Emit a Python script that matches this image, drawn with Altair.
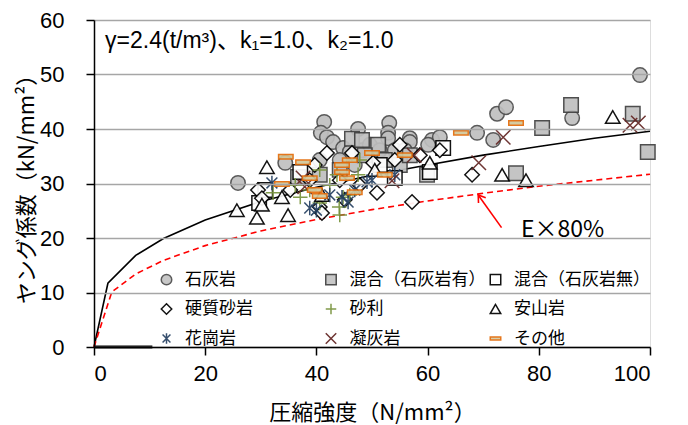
import altair as alt
import pandas as pd

# ---------------- data ----------------
categories = ["石灰岩", "混合（石灰岩有）", "混合（石灰岩無）", "硬質砂岩", "砂利",
              "安山岩", "花崗岩", "凝灰岩", "その他"]

limestone_x = [25.9, 34.4, 41.4, 40.8, 41.9, 43.0, 44.8, 46.0, 47.5, 48.2, 49.6, 53.1, 52.9, 52.9, 54.1,
               56.8, 56.8, 60.8, 62.2, 60.1, 68.9, 71.8, 72.5, 74.1, 86.0, 98.2, 40.6, 44.2, 46.9, 55.9, 51.4]
limestone_y = [30.1, 33.8, 41.3, 39.3, 38.5, 37.6, 36.5, 35.8, 40.0, 36.1, 37.1, 41.1, 39.3, 38.3, 36.1,
               38.3, 37.6, 38.0, 38.5, 37.1, 39.3, 38.0, 42.8, 44.0, 42.0, 49.9, 34.3, 34.3, 33.4, 36.1, 36.1]

mixed_ls_x = [46.4, 51.1, 52.3, 36.7, 59.9, 80.6, 85.8, 96.9, 99.6, 75.9, 48.7, 55.0, 44.2, 40.6, 56.8, 48.2]
mixed_ls_y = [38.2, 37.1, 34.3, 31.2, 31.6, 40.2, 44.4, 42.8, 35.8, 31.9, 35.2, 33.4, 32.5, 31.6, 35.2, 38.0]

mixed_nols_x = [29.7, 30.8, 62.8, 60.4, 54.1, 37.1, 51.4]
mixed_nols_y = [26.4, 28.8, 36.5, 32.1, 31.0, 32.1, 33.4]

sandstone_x = [29.5, 30.2, 35.3, 40.6, 41.0, 41.9, 44.2, 46.4, 47.8, 50.2, 50.9, 55.0, 57.2, 58.6, 62.2,
               68.0, 38.8, 45.1, 39.7, 54.1]
sandstone_y = [28.8, 27.3, 28.8, 25.7, 24.6, 35.6, 30.6, 35.6, 29.7, 33.8, 28.3, 37.1, 26.6, 35.2, 36.1,
               31.6, 30.6, 27.0, 33.4, 34.3]

gravel_x = [32.2, 37.1, 40.6, 43.7, 40.6, 44.2, 44.8, 47.5, 36.2, 42.4, 47.8, 38.8, 46.0, 44.1]
gravel_y = [28.3, 27.5, 32.5, 31.6, 26.4, 24.2, 27.5, 31.6, 29.7, 29.7, 34.3, 28.8, 27.9, 25.7]

andesite_x = [31.1, 29.3, 34.9, 33.8, 25.7, 60.4, 73.4, 77.7, 93.3, 41.0, 50.5, 30.2]
andesite_y = [33.0, 23.7, 24.2, 27.5, 25.1, 33.8, 31.6, 30.6, 42.2, 27.9, 32.5, 26.1]

granite_x = [32.0, 38.8, 44.6, 45.7, 49.1, 50.0, 46.9, 42.4, 54.1, 40.0]
granite_y = [30.1, 25.5, 27.5, 26.6, 30.3, 30.6, 28.8, 27.9, 31.6, 25.1]

tuff_x = [37.9, 37.6, 53.6, 57.6, 69.2, 73.6, 96.4, 97.9]
tuff_y = [29.4, 31.0, 30.5, 35.2, 33.8, 38.5, 40.7, 41.1]

other_x = [34.5, 37.6, 38.8, 33.8, 39.7, 40.6, 44.6, 44.6, 46.0, 45.5, 46.9, 50.0, 52.3, 66.0, 75.9, 55.9]
other_y = [34.9, 33.9, 31.0, 29.9, 28.8, 27.7, 33.4, 32.1, 34.3, 31.0, 28.4, 35.6, 31.6, 39.3, 41.1, 35.2]

# calculated curve and its 80 % curve
curve_x = [0, 2.5, 7.5, 12.5, 20, 30, 40, 50, 60, 70, 80, 90, 100]
curve_y = [0, 11.7, 16.8, 19.9, 23.3, 26.7, 29.3, 31.5, 33.4, 35.2, 36.8, 38.3, 39.6]
curve80_x = [0, 3.2, 7.5, 12.5, 20, 30, 40, 50, 60, 70, 80, 90, 100]
curve80_y = [0, 10.1, 13.4, 15.9, 18.6, 21.3, 23.4, 25.2, 26.8, 28.2, 29.5, 30.6, 31.7]

base_x = [0, 10.5]
base_y = [0, 0]

param_label = "γ=2.4(t/m³)、k₁=1.0、k₂=1.0"
param_pos = (2.0, 56.1)
note_label = "E×80%"
note_pos = (76.8, 21.5)
arrow_x = [73.3, 69.1]
arrow_y = [21.9, 27.9]

x_ticks = [0, 20, 40, 60, 80, 100]
y_ticks = [0, 10, 20, 30, 40, 50, 60]
x_title = "圧縮強度（N/mm²）"
y_title = "ヤング係数（kN/mm²）"

# ---------------- build tables ----------------
series = [
    (categories[0], limestone_x, limestone_y),
    (categories[1], mixed_ls_x, mixed_ls_y),
    (categories[2], mixed_nols_x, mixed_nols_y),
    (categories[3], sandstone_x, sandstone_y),
    (categories[4], gravel_x, gravel_y),
    (categories[5], andesite_x, andesite_y),
    (categories[6], granite_x, granite_y),
    (categories[7], tuff_x, tuff_y),
    (categories[8], other_x, other_y),
]
rows = []
for cat, xs, ys in series:
    for a, b in zip(xs, ys):
        rows.append({"cat": cat, "fc": a, "e": b})
pts = pd.DataFrame(rows)

curve_df = pd.DataFrame({"fc": curve_x, "e": curve_y})
curve80_df = pd.DataFrame({"fc": curve80_x, "e": curve80_y})
base_df = pd.DataFrame({"fc": base_x, "e": base_y})
arrow_df = pd.DataFrame({"fc": arrow_x, "e": arrow_y})
head_df = pd.DataFrame({"fc": [arrow_x[1]], "e": [arrow_y[1]]})
param_df = pd.DataFrame({"fc": [param_pos[0]], "e": [param_pos[1]], "t": [param_label]})
note_df = pd.DataFrame({"fc": [note_pos[0]], "e": [note_pos[1]], "t": [note_label]})

JP = "Noto Sans CJK JP"
NUM = "Liberation Sans"

X = alt.X("fc:Q", title=x_title,
          scale=alt.Scale(domain=[0, 100], nice=False),
          axis=alt.Axis(values=x_ticks, grid=False, tickSize=8, tickWidth=1.5, tickColor="black",
                        domainColor="black", domainWidth=1.5, labelFont=NUM, labelFontSize=22,
                        labelColor="black", labelPadding=8, titleFont=JP, titleFontSize=22,
                        titleFontWeight="normal", titleColor="black", titleY=65,
                        titleBaseline="middle", zindex=1))
Y = alt.Y("e:Q", title=y_title,
          scale=alt.Scale(domain=[0, 60], nice=False),
          axis=alt.Axis(values=y_ticks, grid=True, gridColor="#A6A6A6", gridWidth=1.5,
                        tickSize=8, tickWidth=1.5, tickColor="black",
                        domainColor="black", domainWidth=1.5, labelFont=NUM, labelFontSize=22,
                        labelColor="black", labelPadding=22, titleFont=JP, titleFontSize=22,
                        titleFontWeight="normal", titleColor="black", titleX=-68,
                        titleBaseline="middle", zindex=1))

shape_range = ["circle", "square", "square", "diamond", "M-1,0H1M0,-1V1", "triangle-up",
               "M-0.75,-0.75L0.75,0.75M-0.75,0.75L0.75,-0.75M0,-1V1", "M-1,-1L1,1M-1,1L1,-1",
               "M-1,-0.3H1V0.3H-1Z"]
fill_range = ["#BFBFBF", "#BFBFBF", "white", "white", "transparent", "white", "transparent",
              "transparent", "#D2C79A"]
stroke_range = ["#4D4D4D", "#404040", "black", "black", "#77933C", "black", "#254061", "#632523",
                "#E46C0A"]

leg = alt.Legend(title=None, orient="bottom-right", offset=0, columns=3, direction="horizontal",
                 gridAlign="all", columnPadding=1.5, rowPadding=11.5, labelFont=JP, labelFontSize=17,
                 labelColor="black", labelOffset=10, labelLimit=400, symbolSize=110,
                 symbolStrokeWidth=1.5, fillColor="white", padding=0)

points = alt.Chart(pts).mark_point(filled=False, opacity=0.92, strokeWidth=1.5, size=210).encode(
    x=X, y=Y,
    shape=alt.Shape("cat:N", scale=alt.Scale(domain=categories, range=shape_range), legend=leg),
    fill=alt.Fill("cat:N", scale=alt.Scale(domain=categories, range=fill_range), legend=leg),
    stroke=alt.Stroke("cat:N", scale=alt.Scale(domain=categories, range=stroke_range), legend=leg),
)

curve = alt.Chart(curve_df).mark_line(color="black", strokeWidth=1.6).encode(x=X, y=Y)
curve80 = alt.Chart(curve80_df).mark_line(color="#FF0000", strokeWidth=1.6, strokeDash=[6, 4]).encode(x=X, y=Y)
base = alt.Chart(base_df).mark_line(color="black", strokeWidth=3).encode(x=X, y=Y)
arrow = alt.Chart(arrow_df).mark_line(color="#FF0000", strokeWidth=1.6).encode(x=X, y=Y)
head = alt.Chart(head_df).mark_point(shape="M-0.6,0.9L0,0L0.6,0.9", filled=False, color="#FF0000",
                                     strokeWidth=1.6, size=220, angle=324, opacity=1).encode(x=X, y=Y)
param = alt.Chart(param_df).mark_text(align="left", baseline="middle", fontSize=23,
                                      font="Liberation Sans, Noto Sans CJK JP, DejaVu Sans",
                                      color="black").encode(x=X, y=Y, text="t:N")
note = alt.Chart(note_df).mark_text(align="left", baseline="middle", fontSize=23,
                                    font="Noto Sans CJK JP", color="black").encode(x=X, y=Y, text="t:N")

chart = alt.layer(curve, curve80, base, arrow, head, points, param, note).properties(
    width=556, height=327,
    autosize=alt.AutoSizeParams(type="none"),
    padding={"left": 86, "top": 12, "right": 30, "bottom": 80},
).configure_view(stroke="black", strokeWidth=1.5).configure(background="white")

chart.save("out.html", embed_options={"renderer": "svg", "actions": False})
